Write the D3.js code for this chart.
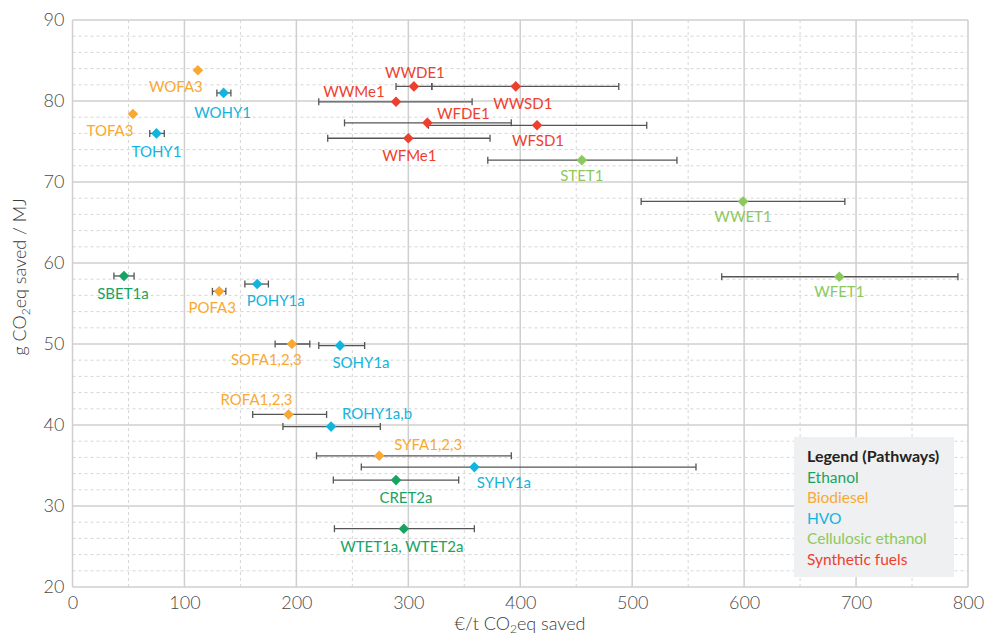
<!DOCTYPE html>
<html>
<head>
<meta charset="utf-8">
<script src="https://cdn.jsdelivr.net/npm/d3@7"></script>
<style>
  body { margin: 0; background: #fff; }
  svg text { font-family: Lato, "Open Sans", "DejaVu Sans", sans-serif; }
</style>
</head>
<body>
<svg id="chart" width="988" height="637"></svg>
<script>
// Pathway codes and their fuel group
const pathways = ["WOFA3", "WOHY1", "TOFA3", "TOHY1", "WWDE1", "WWSD1", "WWMe1", "WFDE1",
  "WFSD1", "WFMe1", "STET1", "WWET1", "WFET1", "SBET1a", "POFA3", "POHY1a", "SOFA1,2,3",
  "SOHY1a", "ROFA1,2,3", "ROHY1a,b", "SYFA1,2,3", "SYHY1a", "CRET2a", "WTET1a, WTET2a"];
const pathwayGroup = [1, 2, 1, 2, 4, 4, 4, 4, 4, 4, 3, 3, 3, 0, 1, 2, 1, 2, 1, 2, 1, 2, 0, 0];

// Abatement cost (€/t CO2eq saved): central value and range
const costMid  = [112, 135, 54, 75, 305, 396, 289, 317, 415, 300, 455, 599, 685, 46, 131, 165, 196, 239, 193, 231, 274, 359, 289, 296];
const costLow  = [null, 129, null, 69, 289, 321, 220, 243, 318, 228, 371, 508, 580, 37, 125, 154, 181, 220, 161, 188, 218, 258, 233, 234];
const costHigh = [null, 141.5, null, 82, 321, 488, 357, 392, 513, 373, 540, 690, 791, 55, 137, 175, 212, 261, 227, 275, 392, 557, 345, 359];

// GHG savings (g CO2eq / MJ)
const ghgSaved = [83.8, 81.0, 78.4, 76.0, 81.8, 81.8, 79.9, 77.3, 77.0, 75.4, 72.7, 67.6, 58.3, 58.4, 56.5, 57.4, 50.0, 49.8, 41.3, 39.8, 36.2, 34.8, 33.2, 27.2];

// Label placement relative to each marker (px)
const labelOffsets = [[-22, 16.5], [-1, 20], [-23, 17], [0, 18], [1, -14], [7, 17], [-42, -10], [36, -9],
  [1, 15], [1, 17], [0, 15], [0, 15.5], [0, 14.5], [-1, 18], [-7, 16.5], [18.5, 17], [-25.5, 16],
  [21, 17], [-32, -15], [46, -13], [49, -11], [29.5, 15], [10, 18], [-2, 18]];

const groups = ["Ethanol", "Biodiesel", "HVO", "Cellulosic ethanol", "Synthetic fuels"];
const groupColors = ["#17a463", "#f9a932", "#12b4dd", "#8cc85c", "#ee3f2e"];

const xTicks = [0, 100, 200, 300, 400, 500, 600, 700, 800];
const yTicks = [20, 30, 40, 50, 60, 70, 80, 90];

const svg = d3.select("#chart");
const x = d3.scaleLinear().domain([0, 800]).range([72.5, 968]);
const y = d3.scaleLinear().domain([20, 90]).range([587, 20]);

// Minor gridlines (dashed)
const grid = svg.append("g");
grid.selectAll("line.ymin").data(d3.range(22, 90, 2).filter(v => v % 10 !== 0)).join("line")
  .attr("x1", x(0)).attr("x2", x(800)).attr("y1", d => y(d)).attr("y2", d => y(d))
  .attr("stroke", "#d6d6d6").attr("stroke-width", 1).attr("stroke-dasharray", "3,3");
grid.selectAll("line.xmin").data(d3.range(50, 800, 100)).join("line")
  .attr("y1", y(20)).attr("y2", y(90)).attr("x1", d => x(d)).attr("x2", d => x(d))
  .attr("stroke", "#d6d6d6").attr("stroke-width", 1).attr("stroke-dasharray", "3,3");

// Major gridlines (solid)
grid.selectAll("line.ymaj").data(yTicks).join("line")
  .attr("x1", x(0)).attr("x2", x(800)).attr("y1", d => y(d)).attr("y2", d => y(d))
  .attr("stroke", "#cfcfcf").attr("stroke-width", 1.5);
grid.selectAll("line.xmaj").data(xTicks).join("line")
  .attr("y1", y(20)).attr("y2", y(90)).attr("x1", d => x(d)).attr("x2", d => x(d))
  .attr("stroke", "#cfcfcf").attr("stroke-width", 1.5);

// Axes (labels only)
const xAxis = svg.append("g").attr("transform", `translate(0,${y(20)})`)
  .call(d3.axisBottom(x).tickValues(xTicks).tickSize(0).tickPadding(9));
const yAxis = svg.append("g").attr("transform", `translate(${x(0)},0)`)
  .call(d3.axisLeft(y).tickValues(yTicks).tickSize(0).tickPadding(8));
[xAxis, yAxis].forEach(a => {
  a.select(".domain").remove();
  a.selectAll("text").attr("font-size", 18).attr("font-weight", 300).attr("fill", "#4a4a4a")
    .style("font-family", "Lato, 'Open Sans', sans-serif");
});

// Axis titles
svg.append("text").attr("x", 520).attr("y", 630).attr("text-anchor", "middle")
  .attr("font-size", 18).attr("font-weight", 300).attr("fill", "#3a3a3a")
  .html("€/t CO<tspan font-size='12' dy='3'>2</tspan><tspan dy='-3'>eq saved</tspan>");
svg.append("text").attr("transform", "translate(26,277) rotate(-90)").attr("text-anchor", "middle")
  .attr("font-size", 18).attr("font-weight", 300).attr("fill", "#3a3a3a")
  .html("g CO<tspan font-size='12' dy='4'>2</tspan><tspan dy='-4'>eq saved / MJ</tspan>");

const idx = d3.range(pathways.length);

// Error bars
const bars = svg.append("g").attr("stroke", "#555").attr("stroke-width", 1.3).attr("fill", "none");
idx.filter(i => costLow[i] !== null).forEach(i => {
  const yy = y(ghgSaved[i]);
  bars.append("line").attr("x1", x(costLow[i])).attr("x2", x(costHigh[i])).attr("y1", yy).attr("y2", yy);
  bars.append("line").attr("x1", x(costLow[i])).attr("x2", x(costLow[i])).attr("y1", yy - 3.5).attr("y2", yy + 3.5);
  bars.append("line").attr("x1", x(costHigh[i])).attr("x2", x(costHigh[i])).attr("y1", yy - 3.5).attr("y2", yy + 3.5);
});

// Diamond markers
const r = 5.3;
svg.append("g").selectAll("path").data(idx).join("path")
  .attr("d", `M0,${-r}L${r},0L0,${r}L${-r},0Z`)
  .attr("transform", i => `translate(${x(costMid[i])},${y(ghgSaved[i])})`)
  .attr("fill", i => groupColors[pathwayGroup[i]]);

// Pathway labels
svg.append("g").selectAll("text").data(idx).join("text")
  .attr("x", i => x(costMid[i]) + labelOffsets[i][0])
  .attr("y", i => y(ghgSaved[i]) + labelOffsets[i][1])
  .attr("dy", "0.36em").attr("text-anchor", "middle")
  .attr("font-size", 15).attr("fill", i => groupColors[pathwayGroup[i]])
  .text(i => pathways[i]);

// Legend
const legend = svg.append("g").attr("transform", "translate(794,437)");
legend.append("rect").attr("width", 160).attr("height", 140).attr("fill", "#eff0f1");
legend.append("text").attr("x", 13).attr("y", 19).attr("dy", "0.36em")
  .attr("font-size", 16).attr("font-weight", 700).attr("fill", "#222").text("Legend (Pathways)");
legend.selectAll("text.item").data(groups).join("text").attr("class", "item")
  .attr("x", 13).attr("y", (d, i) => 40 + i * 20.6).attr("dy", "0.36em")
  .attr("font-size", 15.5).attr("fill", (d, i) => groupColors[i]).text(d => d);
</script>
</body>
</html>
